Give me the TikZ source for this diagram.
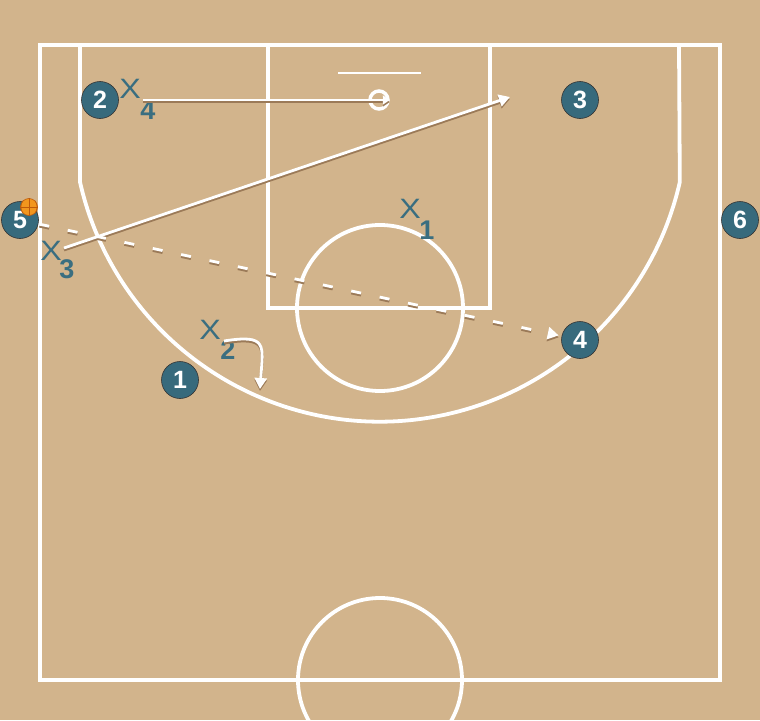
\documentclass[tikz,border=0pt]{standalone}
\usepackage{fontspec}
\setmainfont{Liberation Sans}
\usetikzlibrary{arrows.meta}
\definecolor{court}{RGB}{210,180,140}
\definecolor{plteal}{RGB}{55,106,124}
\definecolor{dteal}{RGB}{58,110,128}
\definecolor{shadec}{RGB}{155,122,88}
\definecolor{ballc}{RGB}{242,150,30}
\definecolor{balld}{RGB}{190,90,10}
\colorlet{mvcol}{white}
\tikzset{
  courtline/.style={draw=white, line width=3.8pt},
  pl/.style={circle, fill=plteal, draw=black!80, line width=0.6pt, minimum size=37pt, inner sep=0pt, text=white, font=\fontsize{25}{25}\selectfont\bfseries},
  dx/.style={inner sep=0pt, text=dteal, font=\fontsize{28}{28}\selectfont, xscale=1.15},
  dn/.style={inner sep=0pt, text=dteal, font=\fontsize{27}{27}\selectfont\bfseries},
  mv/.style={draw=mvcol, line width=2.8pt},
  tip/.style={-{Triangle[length=11pt,width=12pt]}},
  pass/.style={draw=mvcol, line width=2.8pt, dash pattern=on 10pt off 19pt},
  bask/.style={circle, draw=white, line width=3.5pt, minimum size=18pt, inner sep=0pt},
  ballst/.style={circle, fill=ballc, draw=balld, line width=0.6pt, minimum size=17pt, inner sep=0pt}
}
\newcommand{\playlines}{%
\draw[mv,-{Triangle[length=7pt,width=9pt]}] (s4) -- (bk.east);
\draw[mv,tip] (s3) -- (e3);
\draw[pass,tip,shorten >=3pt, shorten <=1pt] (p5) -- (p4);
\draw[mv,tip] (s2) .. controls (268,334) and (263,345) .. (e2);
}
\begin{document}
\begin{tikzpicture}[x=1pt,y=-1pt]
\fill[court] (0,0) rectangle (760,720);
\useasboundingbox (0,0) rectangle (760,720);
\begin{scope}
\clip (0,0) rectangle (760,720);
\draw[courtline] (40,45) rectangle (720,680);
\draw[courtline] (268,45) rectangle (490,308);
\draw[courtline] (80,45) -- (80,182) arc[start angle=167.25, end angle=12.75, radius=307.5] -- (679,45);
\draw[courtline] (380,308) circle[radius=83];
\draw[courtline] (380,680) circle[radius=82];
\draw[courtline, line width=2pt] (338,73) -- (421,73);
\end{scope}
\node[bask] (bk) at (379,100) {};
% players
\node[pl] (p1) at (180,380) {1};
\node[pl] (p2) at (100,100) {2};
\node[pl] (p3) at (580,100) {3};
\node[pl] (p4) at (580,340) {4};
\node[pl] (p5) at (20,220) {5};
\node[pl] (p6) at (740,220) {6};
\node[ballst] (ball) at (29,207) {};
\draw[balld, line width=0.6pt] (ball.north) -- (ball.south) (ball.west) -- (ball.east);
\draw[balld, line width=0.5pt] (ball.north west) to[bend right=30] (ball.south west) (ball.north east) to[bend left=30] (ball.south east);
% defenders
\node[dx] (x1) at (410,209) {X};
\node[dn] (x1n) at (427,230) {1};
\node[dx] (x2) at (210,330) {X};
\node[dn] (x2n) at (228,350) {2};
\node[dx] (x3) at (51,251) {X};
\node[dn] (x3n) at (67,269) {3};
\node[dx] (x4) at (130,89) {X};
\node[dn] (x4n) at (148,110) {4};
% connectors
\coordinate (s4) at (143,100);
\coordinate (s3) at (64,248);
\coordinate (e3) at (510,97);
\coordinate (s2) at (224,341);
\coordinate (e2) at (260,389);
\begin{scope}[transform canvas={yshift=-2pt}]
\colorlet{mvcol}{shadec}
\playlines
\end{scope}
\playlines
\end{tikzpicture}
\end{document}
